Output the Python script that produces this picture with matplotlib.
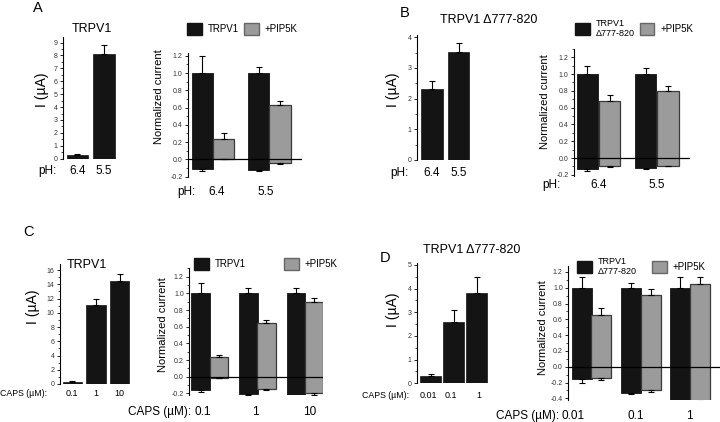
import numpy as np
import matplotlib
matplotlib.use('Agg')
import matplotlib.pyplot as plt
from matplotlib.patches import Patch
from matplotlib.transforms import blended_transform_factory
from matplotlib.ticker import MultipleLocator, FormatStrFormatter

# ---- data ----
# panel A: TRPV1, pH activation
a_cats = ['6.4', '5.5']
a_cur = [0.25, 8.15]
a_cur_err = [0.1, 0.65]
a_wt_top = [1.0, 1.0]
a_wt_top_err = [0.2, 0.07]
a_wt_bot = [-0.11, -0.12]
a_wt_bot_err = [0.03, 0.01]
a_pip_top = [0.23, 0.63]
a_pip_top_err = [0.07, 0.05]
a_pip_bot = [0.0, -0.04]
a_pip_bot_err = [0.0, 0.01]

# panel B: TRPV1 delta777-820, pH activation
b_cats = ['6.4', '5.5']
b_cur = [2.3, 3.53]
b_cur_err = [0.27, 0.27]
b_wt_top = [1.0, 1.0]
b_wt_top_err = [0.1, 0.07]
b_wt_bot = [-0.13, -0.12]
b_wt_bot_err = [0.02, 0.01]
b_pip_top = [0.68, 0.8]
b_pip_top_err = [0.07, 0.06]
b_pip_bot = [-0.1, -0.09]
b_pip_bot_err = [0.01, 0.01]

# panel C: TRPV1, capsaicin
c_cats = ['0.1', '1', '10']
c_cur = [0.35, 11.05, 14.45]
c_cur_err = [0.05, 0.85, 0.95]
c_wt_top = [1.0, 1.0, 1.0]
c_wt_top_err = [0.12, 0.06, 0.06]
c_wt_bot = [-0.16, -0.21, -0.24]
c_wt_bot_err = [0.02, 0.01, 0.01]
c_pip_top = [0.24, 0.64, 0.9]
c_pip_top_err = [0.02, 0.04, 0.05]
c_pip_bot = [-0.01, -0.15, -0.2]
c_pip_bot_err = [0.0, 0.015, 0.02]

# panel D: TRPV1 delta777-820, capsaicin
d_cats = ['0.01', '0.1', '1']
d_cur = [0.3, 2.57, 3.8]
d_cur_err = [0.08, 0.52, 0.7]
d_wt_top = [1.0, 1.0, 1.0]
d_wt_top_err = [0.14, 0.06, 0.14]
d_wt_bot = [-0.16, -0.33, -0.47]
d_wt_bot_err = [0.04, 0.02, 0.03]
d_pip_top = [0.65, 0.91, 1.05]
d_pip_top_err = [0.09, 0.07, 0.09]
d_pip_bot = [-0.14, -0.29, -0.44]
d_pip_bot_err = [0.03, 0.03, 0.03]

BLACK = '#141414'
GRAY = '#9b9b9b'
EDGE = '#3a3a3a'

plt.rcParams['font.family'] = ['Liberation Sans', 'DejaVu Sans']

W, H = 720, 422
fig = plt.figure(figsize=(7.2, 4.22), dpi=100)


def px_axes(l, t, r, b):
    return fig.add_axes([l / W, 1 - b / H, (r - l) / W, (b - t) / H])


def ftext(x, y, s, **kw):
    fig.text(x / W, 1 - y / H, s, ha=kw.pop('ha', 'center'), va=kw.pop('va', 'center'), **kw)


def style_y(ax, major, fmt):
    for s in ['top', 'right', 'bottom']:
        ax.spines[s].set_visible(False)
    ax.spines['left'].set_linewidth(0.8)
    ax.set_xticks([])
    ax.yaxis.set_major_locator(MultipleLocator(major))
    ax.yaxis.set_minor_locator(MultipleLocator(major / 2))
    ax.yaxis.set_major_formatter(FormatStrFormatter(fmt))
    ax.tick_params(axis='y', which='major', labelsize=5, length=2.5, width=0.6, pad=1.5, labelcolor='#333333')
    ax.tick_params(axis='y', which='minor', length=1.5, width=0.5)


def row_labels(ax, xs, labels, y, size):
    tr = blended_transform_factory(ax.transData, fig.transFigure)
    for xi, lab in zip(xs, labels):
        ax.text(xi, 1 - y / H, lab, transform=tr, ha='center', va='center', fontsize=size)


def current_panel(rect, cur, err, xlim, ylim, major, width):
    ax = px_axes(*rect)
    x = np.arange(len(cur))
    ax.bar(x, cur, width=width, color=BLACK, edgecolor=BLACK, linewidth=0.5)
    ax.errorbar(x, cur, yerr=[np.zeros(len(cur)), err], fmt='none', ecolor='black',
                elinewidth=0.8, capsize=2, capthick=0.8)
    ax.set_xlim(*xlim)
    ax.set_ylim(*ylim)
    style_y(ax, major, '%d')
    return ax


def norm_panel(rect, wt_top, wt_top_err, wt_bot, wt_bot_err, pip_top, pip_top_err,
               pip_bot, pip_bot_err, xlim, ylim, width, off):
    ax = px_axes(*rect)
    n = len(wt_top)
    x = np.arange(n)
    z = np.zeros(n)
    wt_top, wt_bot = np.array(wt_top), np.array(wt_bot)
    pip_top, pip_bot = np.array(pip_top), np.array(pip_bot)
    ax.bar(x - off, wt_top - wt_bot, bottom=wt_bot, width=width, color=BLACK, edgecolor=BLACK, linewidth=0.6)
    ax.bar(x + off, pip_top - pip_bot, bottom=pip_bot, width=width, color=GRAY, edgecolor=EDGE, linewidth=0.9)
    kw = dict(fmt='none', ecolor='black', elinewidth=0.8, capsize=2, capthick=0.8, zorder=3)
    ax.errorbar(x - off, wt_top, yerr=[z, wt_top_err], **kw)
    ax.errorbar(x - off, wt_bot, yerr=[wt_bot_err, z], **kw)
    ax.errorbar(x + off, pip_top, yerr=[z, pip_top_err], **kw)
    ax.errorbar(x + off, pip_bot, yerr=[pip_bot_err, z], **kw)
    ax.axhline(0, color='black', lw=0.9, zorder=4)
    ax.set_xlim(*xlim)
    ax.set_ylim(*ylim)
    style_y(ax, 0.2, '%.1f')
    return ax


def legend(ax, label1, x0, y0, size, colsp, size1=None):
    handles = [Patch(facecolor=BLACK, edgecolor=BLACK), Patch(facecolor=GRAY, edgecolor='#666666')]
    leg = ax.legend(handles, [label1, '+PIP5K'], ncol=2, loc='upper left',
                    bbox_to_anchor=(x0 / W, 1 - y0 / H), bbox_transform=fig.transFigure,
                    frameon=False, fontsize=size, handlelength=1.5, handleheight=1.45,
                    handletextpad=0.6, columnspacing=colsp, borderpad=0, borderaxespad=0)
    if size1:
        leg.get_texts()[0].set_fontsize(size1)


# ---------------- panel A ----------------
ax = current_panel((63, 37.4, 118, 158.7), a_cur, a_cur_err, (-0.54, 1.52), (0, 9.4), 1, 0.81)
row_labels(ax, [0, 1], a_cats, 171, 8.5)
ftext(47, 171, 'pH:', fontsize=8.5)
ftext(92, 29, 'TRPV1', fontsize=9)
ftext(42, 90, 'I (µA)', fontsize=10, rotation=90)
ftext(38, 8, 'A', fontsize=10.5)

ax = norm_panel((188, 53.2, 302, 177.4), a_wt_top, a_wt_top_err, a_wt_bot, a_wt_bot_err,
                a_pip_top, a_pip_top_err, a_pip_bot, a_pip_bot_err,
                (-0.44, 1.58), (-0.21, 1.23), 0.373, 0.19)
row_labels(ax, [0.07, 0.94], a_cats, 192, 8.5)
ftext(186, 192, 'pH:', fontsize=8.5)
ftext(159, 97, 'Normalized current', fontsize=8, rotation=90)
legend(ax, 'TRPV1', 187, 23, 7, 0.6)

# ---------------- panel B ----------------
ax = current_panel((417.3, 35, 471.8, 160), b_cur, b_cur_err, (-0.55, 1.5), (0, 4.07), 1, 0.81)
row_labels(ax, [0, 1], b_cats, 173, 8.5)
ftext(399, 173, 'pH:', fontsize=8.5)
ftext(489, 20, 'TRPV1 Δ777-820', fontsize=9)
ftext(393, 90, 'I (µA)', fontsize=10, rotation=90)
ftext(405, 13, 'B', fontsize=10.5)

ax = norm_panel((574, 48.8, 690, 176.5), b_wt_top, b_wt_top_err, b_wt_bot, b_wt_bot_err,
                b_pip_top, b_pip_top_err, b_pip_bot, b_pip_bot_err,
                (-0.42, 1.57), (-0.22, 1.30), 0.37, 0.19)
row_labels(ax, [0, 1], b_cats, 185, 8.5)
ftext(551, 185, 'pH:', fontsize=8.5)
ftext(545, 102, 'Normalized current', fontsize=8, rotation=90)
legend(ax, 'TRPV1\nΔ777-820', 575, 19, 7, 0.55, size1=6.5)

# ---------------- panel C ----------------
ax = current_panel((60, 263.6, 131, 384), c_cur, c_cur_err, (-0.51, 2.47), (0, 16.9), 2, 0.8)
row_labels(ax, [0, 1, 2], c_cats, 393, 6.5)
ftext(23, 393, 'CAPS (µM):', fontsize=6.3)
ftext(87, 265, 'TRPV1', fontsize=9)
ftext(33, 307, 'I (µA)', fontsize=10, rotation=90)
ftext(28, 232, 'C', fontsize=10.5)

ax = norm_panel((189.3, 268.4, 323, 395), c_wt_top, c_wt_top_err, c_wt_bot, c_wt_bot_err,
                c_pip_top, c_pip_top_err, c_pip_bot, c_pip_bot_err,
                (-0.43, 2.38), (-0.22, 1.30), 0.39, 0.19)
row_labels(ax, [-0.14, 0.95, 2.1], c_cats, 412, 8.5)
ftext(160, 412, 'CAPS (µM):', fontsize=8.5)
ftext(163, 325, 'Normalized current', fontsize=8, rotation=90)
legend(ax, 'TRPV1', 194, 258, 7, 4.0)

# ---------------- panel D ----------------
ax = current_panel((417.3, 263.3, 488, 383.3), d_cur, d_cur_err, (-0.59, 2.49), (0, 5.07), 1, 0.92)
row_labels(ax, [-0.11, 0.88, 2.07], d_cats, 395, 6.5)
ftext(385, 395, 'CAPS (µM):', fontsize=6.3)
ftext(472, 250, 'TRPV1 Δ777-820', fontsize=9)
ftext(393, 310, 'I (µA)', fontsize=10, rotation=90)
ftext(385, 258, 'D', fontsize=10.5)

ax = norm_panel((568.3, 266.4, 720, 399.9), d_wt_top, d_wt_top_err, d_wt_bot, d_wt_bot_err,
                d_pip_top, d_pip_top_err, d_pip_bot, d_pip_bot_err,
                (-0.47, 2.6), (-0.42, 1.27), 0.405, 0.2)
row_labels(ax, [-0.38, 0.89, 1.97], d_cats, 416, 8.5)
ftext(528, 416, 'CAPS (µM):', fontsize=8.5)
ftext(543, 328, 'Normalized current', fontsize=8, rotation=90)
legend(ax, 'TRPV1\nΔ777-820', 577, 257, 7, 1.6, size1=6.5)

fig.savefig('out.png', dpi=100)
